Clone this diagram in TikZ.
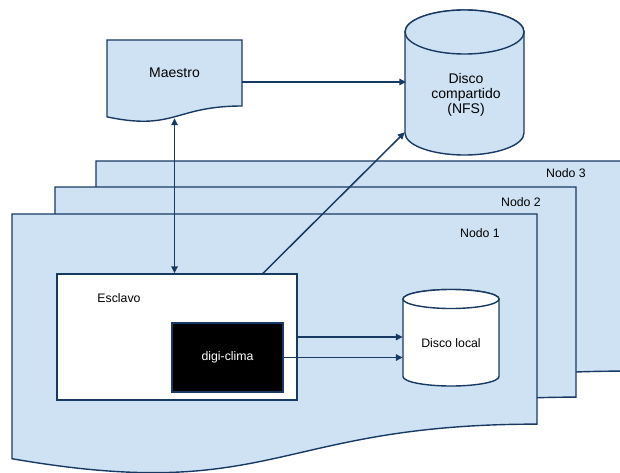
\documentclass[tikz,border=0pt]{standalone}
\usepackage{fontspec}
\setmainfont{Liberation Sans}
\usetikzlibrary{arrows.meta}

\definecolor{azul}{RGB}{207,226,243}
\definecolor{linea}{RGB}{24,58,98}

% hoja: izquierda, arriba, derecha, alto
\newcommand{\hoja}[4]{%
  \draw[hoja] (#1,#2) -- (#3,#2) -- (#3,{#2-0.802*#4})
    .. controls ({(#1+#3)/2},{#2-0.802*#4}) and ({(#1+#3)/2},{#2-1.1075*#4}) .. (#1,{#2-0.934*#4}) -- cycle;}

\begin{document}
\begin{tikzpicture}[
            x = 1pt, y = 1pt,
            hoja/.style = {draw = linea, fill = azul, line width = 1.4pt},
            caja/.style = {draw = linea, line width = 1.4pt, inner sep = 0pt},
            texto/.style = {font = \fontsize{12.3}{14}\selectfont, inner sep = 0pt},
            grande/.style = {font = \fontsize{14}{15}\selectfont, align = center, inner sep = 0pt},
            flecha/.style = {draw = linea, line width = 1.5pt, >={Triangle[length = 7pt, width = 6.5pt]}, ->}
            ]
            \useasboundingbox (0,0) rectangle (620,472);
            \clip (0,0) rectangle (620,472);

            % nodos del cluster
            \hoja{96}{311}{622}{262}
            \hoja{55}{285}{576}{262}
            \hoja{12}{258}{537}{262}
            \hoja{107}{432}{242}{82.3}

            % discos
            \draw[hoja] (405,440) -- (405,339)
                arc[start angle = 180, end angle = 360, x radius = 59.5pt, y radius = 22pt] -- (524,440)
                arc[start angle = 0, end angle = 180, x radius = 59.5pt, y radius = 22pt] -- cycle;
            \draw[hoja] (464.5,440) ellipse[x radius = 59.5pt, y radius = 22pt];
            \draw[hoja, fill = white] (403,173) -- (403,95.5)
                arc[start angle = 180, end angle = 360, x radius = 48pt, y radius = 9.5pt] -- (499,173)
                arc[start angle = 0, end angle = 180, x radius = 48pt, y radius = 9.5pt] -- cycle;
            \draw[hoja, fill = white] (451,173) ellipse[x radius = 48pt, y radius = 9.5pt];

            \node[texto] (nodo3) at (566,299) {Nodo 3};
            \node[texto] (nodo2) at (521,270) {Nodo 2};
            \node[texto] (nodo1) at (480,239) {Nodo 1};
            \node[grande, minimum width = 135pt, minimum height = 66pt] (maestro) at (174.5,399) {Maestro};
            \node[grande, minimum width = 119pt, minimum height = 74pt] (nfs) at (466,377) {Disco\\compartido\\(NFS)};
            \node[caja, fill = white, minimum width = 240pt, minimum height = 126pt] (esclavo) at (177,135) {};
            \node[texto] (esclavotxt) at (119,174) {Esclavo};
            \node[caja, texto, fill = black, text = white, minimum width = 111pt, minimum height = 69pt] (digi) at (227.5,114.5) {digi-clima};
            \node[texto, minimum width = 96pt, minimum height = 40pt] (local) at (451,129) {Disco local};

            % conexiones
            \coordinate (m1) at ([yshift = -9pt]maestro.east);
            \coordinate (m2) at ([yshift = -12pt]maestro.south);
            \coordinate (e1) at ([xshift = 86pt]esclavo.north);
            \draw[flecha] (m1) -- (m1 -| nfs.west);
            \draw[flecha, <->] (m2) -- (maestro.south |- esclavo.north);
            \draw[flecha] (e1) -- ([xshift = -1.5pt]nfs.south west);
            \draw[flecha] (esclavo.east) -- (esclavo.east -| local.west);
            \draw[flecha] (digi.east) -- (digi.east -| local.west);
\end{tikzpicture}
\end{document}
